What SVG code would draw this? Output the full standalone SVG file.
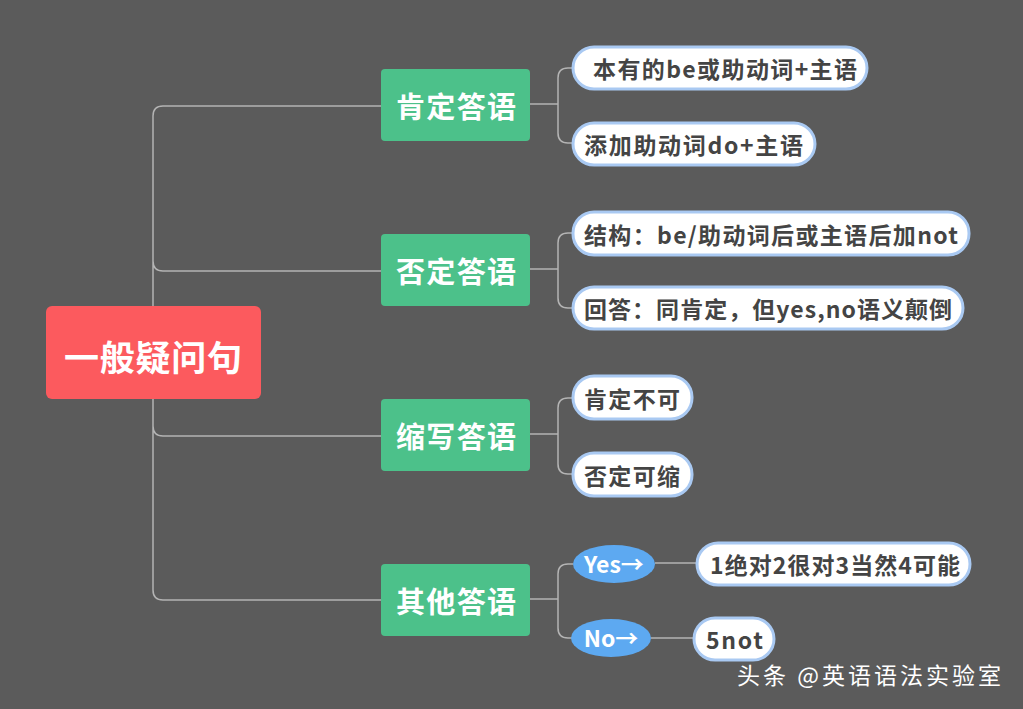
<svg xmlns="http://www.w3.org/2000/svg" width="1023" height="709" viewBox="0 0 1023 709">
<style>
.c{fill:none;stroke:#b4b4b4;stroke-width:1.5}
.g{fill:#4cc18a}
.gt{fill:#fff;font:bold 29px "Noto Sans CJK SC",sans-serif;text-anchor:middle}
.p{fill:#fff;stroke:#a9c9f2;stroke-width:3}
.pt{fill:#444;font:bold 23px "Noto Sans CJK SC",sans-serif}
.e{fill:#5da9f1}
.et{fill:#fff;font:bold 23px "Noto Sans CJK SC",sans-serif;text-anchor:middle}
</style>
<rect width="1023" height="709" fill="#5b5b5b"/>
<g id="connectors">
<path class="c" d="M153 306 V116 Q153 106 163 106 H381 M153 306 V261 Q153 271 163 271 H381 M153 399 V426 Q153 436 163 436 H381 M153 399 V590 Q153 600 163 600 H381"/>
<path class="c" d="M530 104 H558 M568 68 Q558 68 558 78 V133 Q558 143 568 143 H573 M568 68 H573"/>
<path class="c" d="M530 269 H558 M573 233 H568 Q558 233 558 243 V298 Q558 308 568 308 H573"/>
<path class="c" d="M530 434 H558 M573 398 H568 Q558 398 558 408 V464 Q558 474 568 474 H573"/>
<path class="c" d="M530 599 H558 M573 564 H568 Q558 564 558 574 V628 Q558 638 568 638 H573"/>
<path class="c" d="M655 563 H697 M651 638 H694"/>
</g>
<g id="root"><rect x="46" y="306" width="215" height="93" rx="6" fill="#fc5a5e"/><text x="153" y="371" fill="#fff" font-family="Noto Sans CJK SC,sans-serif" font-weight="bold" font-size="35" text-anchor="middle" textLength="178">一般疑问句</text></g>
<g id="n1"><rect class="g" x="381" y="69" width="149" height="72" rx="4"/><text class="gt" x="456" y="118" textLength="120">肯定答语</text></g>
<g id="n2"><rect class="g" x="381" y="234" width="149" height="72" rx="4"/><text class="gt" x="456" y="283" textLength="120">否定答语</text></g>
<g id="n3"><rect class="g" x="381" y="399" width="149" height="72" rx="4"/><text class="gt" x="456" y="448" textLength="120">缩写答语</text></g>
<g id="n4"><rect class="g" x="381" y="564" width="149" height="72" rx="4"/><text class="gt" x="456" y="613" textLength="120">其他答语</text></g>
<g id="c1"><rect class="p" x="573" y="47" width="294" height="42" rx="21"/><text class="pt" x="593" y="78" textLength="264">本有的be或助动词+主语</text></g>
<g id="c2"><rect class="p" x="573" y="123" width="242" height="42" rx="21"/><text class="pt" x="584" y="154" textLength="219">添加助动词do+主语</text></g>
<g id="c3"><rect class="p" x="573" y="212" width="396" height="43" rx="21"/><text class="pt" x="584" y="244" textLength="374">结构：be/助动词后或主语后加not</text></g>
<g id="c4"><rect class="p" x="573" y="287" width="390" height="42" rx="21"/><text class="pt" x="584" y="318" textLength="368">回答：同肯定，但yes,no语义颠倒</text></g>
<g id="c5"><rect class="p" x="573" y="376" width="119" height="43" rx="21"/><text class="pt" x="584" y="408" textLength="96">肯定不可</text></g>
<g id="c6"><rect class="p" x="573" y="453" width="119" height="43" rx="21"/><text class="pt" x="584" y="485" textLength="96">否定可缩</text></g>
<g id="yes"><ellipse class="e" cx="614" cy="564" rx="41" ry="19"/><text class="et" x="614" y="573">Yes→</text></g>
<g id="no"><ellipse class="e" cx="611" cy="638" rx="40" ry="19"/><text class="et" x="611" y="647">No→</text></g>
<g id="c7"><rect class="p" x="697" y="543" width="273" height="42" rx="21"/><text class="pt" x="710" y="574" textLength="250">1绝对2很对3当然4可能</text></g>
<g id="c8"><rect class="p" x="694" y="618" width="80" height="42" rx="21"/><text class="pt" x="706" y="649" textLength="57">5not</text></g>
<text x="737" y="684" fill="#fff" font-family="Noto Sans CJK SC,sans-serif" font-size="23" textLength="264">头条 @英语语法实验室</text>
</svg>
